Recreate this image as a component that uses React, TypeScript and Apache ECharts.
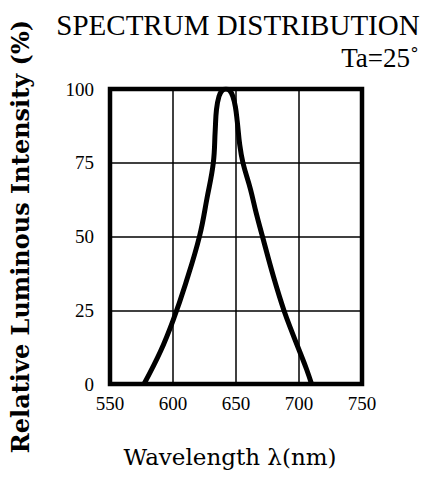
import React, { useEffect, useRef } from "react";
import * as echarts from "echarts";

const titleText = "SPECTRUM DISTRIBUTION";
const conditionText = "Ta=25˚";
const xAxisName = "Wavelength λ(nm)";
const yAxisName = "Relative Luminous Intensity (%)";

const wavelengths = [577, 590, 600, 610, 621, 627, 632, 633.5, 634.5, 636.5, 639, 642, 645, 647.5, 649.5, 651, 653, 655.5, 661.5, 666, 671, 680, 688, 695, 701, 706, 710];
const intensity = [0, 11, 21.5, 34, 50, 63, 75, 86, 93, 97.5, 99.5, 100, 99.5, 97.5, 94, 89, 81, 75, 66, 58, 50, 36, 25, 17, 10.5, 5, 0];

const xMin = 550;
const xMax = 750;
const xStep = 50;
const yMin = 0;
const yMax = 100;
const yStep = 25;

export default function App() {
  const ref = useRef<HTMLDivElement>(null);
  useEffect(() => {
    if (!ref.current) return;
    const chart = echarts.init(ref.current, undefined, { renderer: "svg" });
    const serif = "Liberation Serif";
    const wide = "DejaVu Serif";
    chart.setOption({
      animation: false,
      backgroundColor: "#fff",
      title: [
        {
          text: titleText,
          left: 233,
          top: 5,
          textAlign: "center",
          textStyle: { fontFamily: serif, fontSize: 29, fontWeight: "normal", color: "#000" },
        },
        {
          text: conditionText,
          right: 2,
          top: 39,
          textStyle: { fontFamily: serif, fontSize: 27, fontWeight: "normal", color: "#000" },
        },
      ],
      grid: {
        left: 109,
        top: 89,
        width: 253,
        height: 295,
        show: true,
        borderColor: "#000",
        borderWidth: 4.5,
        backgroundColor: "transparent",
      },
      xAxis: {
        type: "value",
        min: xMin,
        max: xMax,
        interval: xStep,
        name: xAxisName,
        nameLocation: "middle",
        nameGap: 61,
        nameTextStyle: { fontFamily: wide, fontSize: 23, color: "#000", padding: [0, 12, 0, 0] },
        axisLine: { show: false },
        axisTick: { show: false },
        axisLabel: { fontFamily: serif, fontSize: 19, color: "#000", margin: 10 },
        splitLine: { show: true, lineStyle: { color: "#000", width: 1.5 } },
      },
      yAxis: {
        type: "value",
        min: yMin,
        max: yMax,
        interval: yStep,
        name: yAxisName,
        nameLocation: "middle",
        nameRotate: 90,
        nameGap: 78,
        nameTextStyle: { fontFamily: wide, fontSize: 24, fontWeight: "bold", color: "#000" },
        axisLine: { show: false },
        axisTick: { show: false },
        axisLabel: { fontFamily: serif, fontSize: 19, color: "#000", margin: 16 },
        splitLine: { show: true, lineStyle: { color: "#000", width: 1.5 } },
      },
      series: [
        {
          type: "line",
          data: wavelengths.map((w, i) => [w, intensity[i]]),
          smooth: 0.4,
          symbol: "none",
          lineStyle: { color: "#000", width: 5 },
        },
      ],
    });
    return () => chart.dispose();
  }, []);
  return (
    <div
      ref={ref}
      style={{ position: "absolute", left: 0, top: 0, width: 426, height: 477 }}
    />
  );
}
